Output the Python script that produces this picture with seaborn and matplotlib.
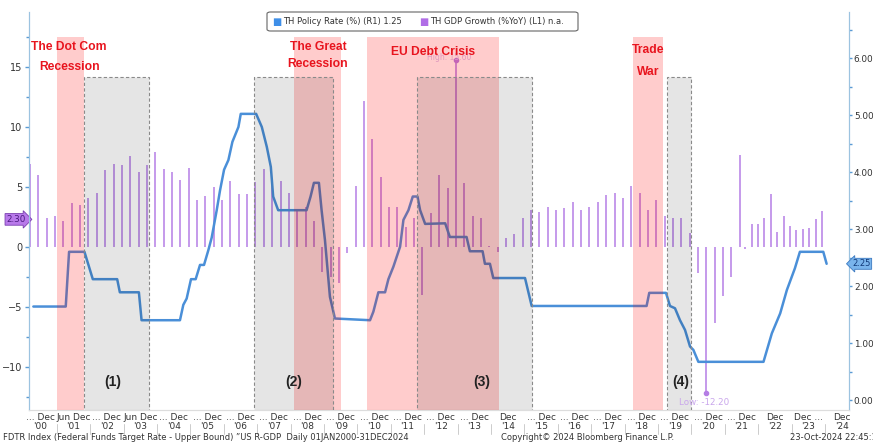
import numpy as np
import pandas as pd
import matplotlib.pyplot as plt
import seaborn as sns
from matplotlib.patches import Rectangle, FancyBboxPatch
from matplotlib.transforms import blended_transform_factory

sns.set_style('white')
plt.rcParams['font.family'] = ['DejaVu Sans']

# PIB da Tailandia (%YoY), trimestral
gdp_growth = [6.9, 6.0, 2.4, 2.6, 2.2, 3.7, 3.5, 4.1, 4.5, 6.4,
              6.9, 6.8, 7.6, 6.25, 6.8, 7.9, 6.5, 6.25, 5.6, 6.6,
              3.9, 4.25, 5.0, 3.9, 5.5, 4.4, 4.4, 5.4, 6.5, 5.2,
              5.5, 4.5, 3.1, 3.3, 2.2, -2.1, -2.5, -3.0, -0.5, 5.05,
              12.2, 9.0, 5.8, 3.3, 3.3, 1.7, 2.4, -4.0, 2.8, 6.0,
              4.9, 15.6, 5.3, 2.6, 2.4, 0.1, -0.4, 0.75, 1.05, 2.4,
              3.05, 2.9, 3.3, 3.05, 3.25, 3.75, 3.1, 3.3, 3.75, 4.3,
              4.5, 4.1, 5.05, 4.5, 3.1, 3.9, 2.6, 2.4, 2.4, 1.2,
              -2.2, -12.2, -6.3, -4.1, -2.5, 7.7,
              -0.2, 1.9, 1.9, 2.4, 4.4, 1.25, 2.6, 1.75, 1.4, 1.5, 1.6, 2.3, 3.0]
# no grafico original os ultimos trimestres aparecem mais apertados
gdp_dates = np.concatenate([2000 + np.arange(86) / 4, np.linspace(2021.41, 2023.71, 13)])

# Taxa de juros (policy rate), escala da direita
rate_dates = [2000.10, 2001.07, 2001.17, 2001.63, 2001.75, 2001.88, 2002.61, 2002.69, 2003.26, 2003.34,
              2004.49, 2004.59, 2004.69, 2004.82, 2004.96, 2005.09, 2005.21, 2005.34, 2005.44, 2005.59,
              2005.69, 2005.81, 2005.94, 2006.06, 2006.24, 2006.31, 2006.77, 2006.94, 2007.09, 2007.21,
              2007.28, 2007.43, 2008.28, 2008.40, 2008.50, 2008.65, 2008.73, 2008.83, 2008.98, 2009.13,
              2010.18, 2010.28, 2010.43, 2010.63, 2010.73, 2010.88, 2011.08, 2011.18, 2011.33, 2011.46,
              2011.60, 2011.68, 2011.83, 2012.43, 2012.57, 2013.07, 2013.17, 2013.55, 2013.62, 2013.77,
              2013.87, 2014.82, 2015.02, 2018.46, 2018.54, 2019.04, 2019.16, 2019.31, 2019.46, 2019.61,
              2019.76, 2019.86, 2020.01, 2021.96, 2022.21, 2022.46, 2022.66, 2022.90, 2023.05, 2023.75,
              2023.85]
rate_values = [1.64, 1.64, 2.60, 2.60, 2.37, 2.12, 2.12, 1.89, 1.89, 1.40,
               1.40, 1.67, 1.78, 2.12, 2.12, 2.37, 2.37, 2.63, 2.85, 3.33,
               3.68, 4.04, 4.21, 4.53, 4.79, 5.02, 5.02, 4.79, 4.44, 4.09,
               3.57, 3.33, 3.33, 3.57, 3.81, 3.81, 3.33, 2.81, 1.81, 1.43,
               1.40, 1.55, 1.89, 1.89, 2.12, 2.34, 2.69, 3.16, 3.33, 3.57,
               3.57, 3.33, 3.09, 3.10, 2.86, 2.86, 2.61, 2.61, 2.39, 2.39,
               2.14, 2.14, 1.65, 1.65, 1.88, 1.88, 1.65, 1.61, 1.40, 1.23,
               0.94, 0.88, 0.67, 0.67, 1.17, 1.52, 1.93, 2.31, 2.60, 2.60,
               2.39]

# Crises (faixas rosa)
event_lines = [['The Dot Com', 'Recession'], ['The Great', 'Recession'], ['EU Debt Crisis'], ['Trade', 'War']]
event_start = [2000.81, 2007.90, 2010.09, 2018.05]
event_end = [2001.62, 2009.31, 2014.04, 2018.95]

# Janelas (caixas cinza)
window_labels = ['(1)', '(2)', '(3)', '(4)']
window_start = [2001.62, 2006.71, 2011.59, 2019.07]
window_end = [2003.56, 2009.07, 2015.03, 2019.79]

years = list(range(2000, 2025))
top_row = ['... Dec', 'Jun Dec', '... Dec', 'Jun Dec', '... Dec', '... Dec', '... Dec', '... Dec',
           '... Dec', '... Dec', '... Dec', '... Dec', '... Dec', '... Dec', 'Dec', '... Dec',
           '... Dec', '... Dec', '... Dec', '... Dec', '... Dec', '... Dec', 'Dec', 'Dec ...', 'Dec']

gdp_last_label = '2.30'
rate_last_label = '2.25'

purple = '#b57ee5'
blue = '#4a8fd8'
axis_blue = '#9cc3e0'

fig = plt.figure(figsize=(8.73, 4.42), dpi=100)
ax = fig.add_axes([29/873, 1-410/442, 820/873, 398/442])
ax2 = ax.twinx()

# barras do PIB (eixo esquerdo)
ax.vlines(gdp_dates, 0, gdp_growth, color=purple, lw=1.1)
hi = int(np.argmax(gdp_growth))
lo = int(np.argmin(gdp_growth))
ax.plot([gdp_dates[hi], gdp_dates[lo]], [gdp_growth[hi], gdp_growth[lo]], 'o', color=purple, ms=3)

# taxa de juros (eixo direito)
sns.lineplot(x=rate_dates, y=rate_values, ax=ax2, color=blue, lw=1.8, sort=False, estimator=None)

ax.set_xlim(1999.97, 2024.52)
ax.set_ylim(-13.58, 19.58)
ax2.set_ylim(-0.175, 6.807)

trans = blended_transform_factory(ax2.transData, ax2.transAxes)
for s, e in zip(event_start, event_end):
    ax2.add_patch(Rectangle((s, 0), e - s, 0.937, transform=trans, facecolor=(1, 0, 0, 0.2),
                            edgecolor='none', zorder=5))
for s, e in zip(window_start, window_end):
    ax2.add_patch(Rectangle((s, -0.01), e - s, 0.847, transform=trans, facecolor=(0, 0, 0, 0.1),
                            edgecolor='#8a8a8a', lw=0.8, ls=(0, (3, 2)), zorder=6))

# textos das crises
ev_x = [2001.17, 2008.62, 2012.08, 2018.50]
ev_y = [[0.912, 0.862], [0.912, 0.870], [0.899], [0.905, 0.849]]
for lines, x, ys in zip(event_lines, ev_x, ev_y):
    for txt, y in zip(lines, ys):
        ax2.text(x, y, txt, transform=trans, ha='center', va='center', color='#e8141e',
                 fontsize=8.7, fontweight='bold', family='Liberation Sans', zorder=10)
win_x = [2002.49, 2007.90, 2013.53, 2019.49]
for lab, x in zip(window_labels, win_x):
    ax2.text(x, 0.070, lab, transform=trans, ha='center', va='center', color='#222222',
             fontsize=10, fontweight='bold', family='Liberation Sans', zorder=10)

ax2.text(2020.18, 0.02, 'Low: -12.20', transform=trans, ha='center', va='center',
         color='#c9a6ec', fontsize=6.3, zorder=10)
ax2.text(2012.55, 0.885, 'High: 15.60', transform=trans, ha='center', va='center',
         color='#d9c0ee', fontsize=5.5, zorder=4)

# eixos
for a in (ax, ax2):
    a.spines['top'].set_visible(False)
    a.spines['left'].set_color(axis_blue)
    a.spines['right'].set_color(axis_blue)
    a.spines['bottom'].set_color('#dddddd')
ax.set_yticks([-10, -5, 0, 5, 10, 15])
ax.set_yticks(np.arange(-12.5, 19, 2.5), minor=True)
ax.tick_params(axis='y', which='both', direction='out', color='#5b9bd5', labelsize=7,
               labelcolor='#333333', length=3, width=1, pad=2)
ax.tick_params(axis='y', which='minor', length=2)
ax2.set_yticks(np.arange(0, 7, 1))
ax2.set_yticklabels([f'{v:.2f}' for v in range(7)])
ax2.set_yticks(np.arange(0, 6.6, 0.5), minor=True)
ax2.tick_params(axis='y', which='both', direction='out', color='#5b9bd5', labelsize=6.4,
                labelcolor='#333333', length=2.5, width=1, pad=1)
ax2.tick_params(axis='y', which='minor', length=2)
ax2.set_ylabel('')

ax.set_xticks([y + 0.3 for y in years])
ax.set_xticklabels([f"{t}\n'{y % 100:02d}" for t, y in zip(top_row, years)], fontsize=6.5,
                   color='#333333', linespacing=1.05)
ax.set_xticks(np.arange(2000, 2024.6, 0.25), minor=True)
ax.tick_params(axis='x', which='major', length=0, pad=2)
ax.tick_params(axis='x', which='minor', length=2, color='#e0a27a')
xt = blended_transform_factory(ax.transData, ax.transAxes)
for y in years[1:]:
    ax.plot([y - 0.2, y - 0.2], [-0.035, -0.06], transform=xt, color='#cccccc', lw=0.7, clip_on=False)

# etiquetas de ultimo valor
ax.text(-0.004, 2.3, gdp_last_label, transform=blended_transform_factory(ax.transAxes, ax.transData),
        ha='right', va='center', fontsize=6.3, color='#4b1a80', zorder=12,
        bbox=dict(boxstyle='rarrow,pad=0.15', fc='#b879ea', ec='#7a3fb0', lw=0.6))
ax2.text(1.004, rate_values[-1], rate_last_label, transform=blended_transform_factory(ax2.transAxes, ax2.transData),
         ha='left', va='center', fontsize=6.0, color='#123a7a', zorder=12,
         bbox=dict(boxstyle='larrow,pad=0.12', fc='#79b4ec', ec='#3a78c0', lw=0.6), clip_on=False)

# legenda
fig.patches.append(FancyBboxPatch((267/873, 1-31/442), 311/873, 19/442, boxstyle='round,pad=0,rounding_size=0.004',
                                  transform=fig.transFigure, fc='white', ec='#666666', lw=0.8, zorder=20))
fig.text(272/873, 1-21.5/442, '■', color='#3f8fe8', fontsize=7, va='center', zorder=21)
fig.text(283/873, 1-21.5/442, 'TH Policy Rate (%) (R1) 1.25', color='#333333', fontsize=6, va='center', zorder=21)
fig.text(419/873, 1-21.5/442, '■', color='#b06de6', fontsize=7, va='center', zorder=21)
fig.text(430/873, 1-21.5/442, 'TH GDP Growth (%YoY) (L1) n.a.', color='#333333', fontsize=6, va='center', zorder=21)

# rodape
fig.text(3/873, 1-437/442, 'FDTR Index (Federal Funds Target Rate - Upper Bound) \u201dUS R-GDP  Daily 01JAN2000-31DEC2024',
         fontsize=6, color='#333333', va='center')
fig.text(588/873, 1-437/442, 'Copyright\u00a9 2024 Bloomberg Finance L.P.', fontsize=6, color='#333333',
         va='center', ha='center')
fig.text(790/873, 1-437/442, '23-Oct-2024 22:45:17', fontsize=6, color='#333333', va='center')

fig.savefig('out.png', dpi=100)
